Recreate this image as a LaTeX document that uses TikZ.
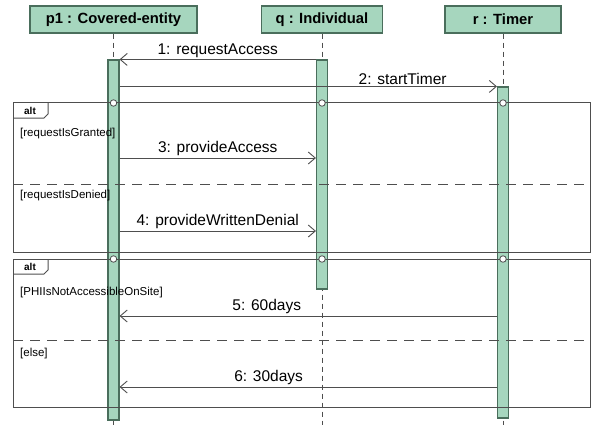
\documentclass[tikz,border=0pt]{standalone}
\usepackage{fontspec}
\setmainfont{Liberation Sans}
\usetikzlibrary{arrows.meta}

\definecolor{actfill}{RGB}{166,214,190}
\definecolor{actline}{RGB}{74,110,92}
\definecolor{msgline}{RGB}{78,78,78}

\tikzset{
  head/.style={draw=actline, fill=actfill, line width=1.1pt, minimum height=27pt,
    inner sep=0pt, font=\fontsize{14.8}{16}\selectfont\bfseries},
  act/.style={draw=actline, fill=actfill, line width=1.1pt, minimum width=11pt, inner sep=0pt},
  life/.style={draw=msgline, dash pattern=on 5pt off 4pt, line width=0.8pt},
  msg/.style={draw=msgline, line width=0.9pt, -{Straight Barb[length=7pt, width=12pt]}},
  lbl/.style={font=\fontsize{15.5}{17}\selectfont, inner sep=1pt, above=0.5pt},
  guard/.style={font=\fontsize{11.5}{13}\selectfont, anchor=west, inner sep=0pt},
  tab/.style={font=\fontsize{10}{11}\selectfont\bfseries, inner sep=0pt},
  frame/.style={draw=msgline, line width=1pt},
  sep/.style={draw=msgline, line width=0.9pt, dash pattern=on 10pt off 7pt},
  gate/.style={circle, draw=msgline, fill=white, line width=0.8pt, minimum size=6.5pt, inner sep=0pt},
}

\begin{document}
\begin{tikzpicture}[x=1pt, y=-1pt]
  \useasboundingbox (0,0) rectangle (596,425);

  % objets
  \node[head, minimum width=167pt] (p1) at (113.5,19.5) {p1 : Covered-entity};
  \node[head, minimum width=121pt] (q) at (322,19.5) {q : Individual};
  \node[head, minimum width=116pt] (timer) at (503,19.5) {r : Timer};

  % lignes de vie
  \foreach \o in {p1,q,timer}
    \draw[life] (\o.south) -- (\o.south |- 0,425);

  % activations
  \node[act, minimum height=360pt] (actp1) at (113.5,240) {};
  \node[act, minimum height=229pt] (actq) at (322,174.5) {};
  \node[act, minimum height=331pt] (acttimer) at (503,252.5) {};

  % 1 et 2
  \draw[msg] (actq.north west) -- node[lbl] {1: requestAccess} (actq.north west -| actp1.east);
  \draw[msg] (actp1.east |- acttimer.north) -- node[lbl, pos=0.75] {2: startTimer} (acttimer.north west);

  % premier alt
  \coordinate (f1) at (0,103);
  \draw[frame] (13,103) rectangle (590,252);
  \draw[frame] (13,118) -- (44,118) -- (48,114) -- (48,103);
  \node[tab] (alt1) at (30,111) {alt};
  \node[guard] (g1) at (20,134) {[requestIsGranted]};
  \coordinate (m3) at (0,158);
  \draw[msg] (actp1.east |- m3) -- node[lbl] {3: provideAccess} (actq.west |- m3);
  \draw[sep] (13,184) -- (590,184);
  \node[guard] (g2) at (20,196) {[requestIsDenied]};
  \coordinate (m4) at (0,231);
  \draw[msg] (actp1.east |- m4) -- node[lbl] {4: provideWrittenDenial} (actq.west |- m4);

  % second alt
  \coordinate (f2) at (0,259);
  \draw[frame] (13,259) rectangle (590,407);
  \draw[frame] (13,274) -- (44,274) -- (48,270) -- (48,259);
  \node[tab] (alt2) at (30,267) {alt};
  \node[guard] (g3) at (20,293) {[PHIIsNotAccessibleOnSite]};
  \coordinate (m5) at (0,316);
  \draw[msg] (acttimer.west |- m5) -- node[lbl, pos=0.61] {5: 60days} (actp1.east |- m5);
  \draw[sep] (13,340) -- (590,340);
  \node[guard] (g4) at (20,354) {[else]};
  \coordinate (m6) at (0,387);
  \draw[msg] (acttimer.west |- m6) -- node[lbl, pos=0.605] {6: 30days} (actp1.east |- m6);

  % portes
  \foreach \a in {actp1,actq,acttimer} {
    \node[gate] (t1-\a) at (\a |- f1) {};
    \node[gate] (t2-\a) at (\a |- f2) {};
  }
\end{tikzpicture}
\end{document}
